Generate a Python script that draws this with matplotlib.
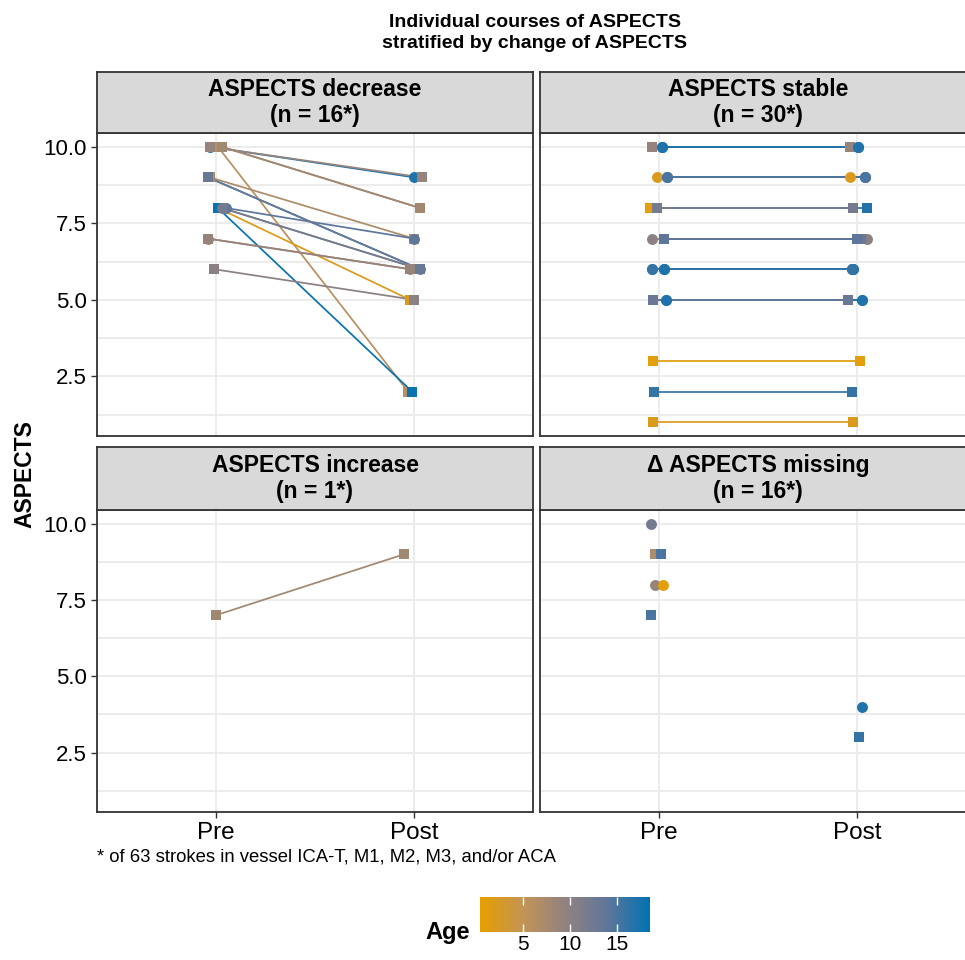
import numpy as np
import matplotlib
matplotlib.use("Agg")
import matplotlib.pyplot as plt
from matplotlib.colors import LinearSegmentedColormap, Normalize
from matplotlib.cm import ScalarMappable

plt.rcParams['font.family'] = ['Liberation Sans', 'DejaVu Sans']

# ---- data (ASPECTS pre / post, age, shape group, horizontal jitter) ----
nan = np.nan

dec_pre = [10, 10, 10, 9, 9, 8, 8, 8, 8, 7, 6, 10, 8, 9, 7, 10]
dec_post = [9, 8, 2, 6, 7, 7, 6, 5, 2, 6, 5, 9, 6, 6, 6, 8]
dec_age = [17, 8, 6, 17, 7, 14, 11, 2, 18, 8, 10, 9, 12, 13, 9, 8]
dec_grp = [0, 1, 1, 1, 1, 0, 1, 1, 1, 0, 1, 1, 0, 1, 1, 1]
dec_jit_pre = [-0.03, 0.03, 0.01, -0.04, -0.03, 0.05, 0.03, 0.01, 0.01, -0.04, -0.01,
               -0.03, 0.03, -0.04, -0.04, 0.03]
dec_jit_post = [0.0, 0.03, -0.03, 0.03, 0.0, 0.0, 0.03, -0.02, -0.01, -0.02, 0.0,
                0.04, 0.03, 0.03, -0.02, 0.03]

sta_val = [10, 10, 10, 10, 9, 9, 9, 9, 8, 8, 8, 8, 8, 7, 7, 7, 7,
           6, 6, 6, 6, 6, 5, 5, 5, 5, 5, 3, 2, 1]
sta_age = [9, 17, 16, 17, 2, 14, 13, 15, 1, 12, 17, 12, 12, 10, 14, 13, 14,
           16, 17, 16, 17, 16, 13, 17, 14, 17, 13, 1, 16, 2]
sta_grp = [1, 0, 0, 0, 0, 0, 0, 0, 1, 1, 1, 1, 1, 0, 1, 1, 1,
           0, 0, 0, 0, 0, 1, 0, 1, 0, 1, 1, 1, 1]
sta_jit_pre = [-0.035, 0.015, 0.015, 0.015, -0.01, 0.04, 0.04, 0.04, -0.045, -0.01, -0.01,
               -0.01, -0.01, -0.035, 0.025, 0.025, 0.025, -0.035, 0.025, 0.025, 0.025,
               -0.035, -0.03, 0.035, -0.03, 0.035, -0.03, -0.03, -0.025, -0.03]
sta_jit_post = [-0.035, 0.005, 0.005, 0.005, -0.035, 0.04, 0.04, 0.04, -0.02, -0.02, 0.05,
                -0.02, -0.02, 0.05, 0.0, 0.02, 0.0, -0.025, -0.02, -0.025, -0.02,
                -0.025, -0.045, 0.025, -0.045, 0.025, -0.045, 0.015, -0.025, -0.02]

inc_pre = [7]
inc_post = [9]
inc_age = [8]
inc_grp = [1]
inc_jit_pre = [0.0]
inc_jit_post = [-0.05]

mis_pre = [10, 9, 9, 8, 8, 7, nan, nan]
mis_post = [nan, nan, nan, nan, nan, nan, 4, 3]
mis_age = [12, 7, 15, 9, 1, 15, 17, 16]
mis_grp = [0, 1, 1, 0, 0, 1, 0, 1]
mis_jit_pre = [-0.04, -0.02, 0.01, -0.02, 0.02, -0.04, 0.0, 0.0]
mis_jit_post = [0.0, 0.0, 0.0, 0.0, 0.0, 0.0, 0.025, 0.01]

x_labels = ["Pre", "Post"]
panel_titles = ["ASPECTS decrease\n(n = 16*)", "ASPECTS stable\n(n = 30*)",
                "ASPECTS increase\n(n = 1*)", "\u0394 ASPECTS missing\n(n = 16*)"]

cmap = LinearSegmentedColormap.from_list(
    "age", ["#E69F00", "#C39455", "#918280", "#5F769A", "#0072B2"])
norm = Normalize(vmin=0.4, vmax=18.5)
markers = ['o', 's']

W, H = 965, 960
fig = plt.figure(figsize=(W / 100, H / 100), dpi=100)


def box(x0, y0, x1, y1):
    return [x0 / W, 1 - y1 / H, (x1 - x0) / W, (y1 - y0) / H]


def draw(ax, pre, post, age, grp, jpre, jpost):
    for i in range(len(age)):
        c = cmap(norm(age[i]))
        xs, ys = [], []
        if not np.isnan(pre[i]):
            xs.append(1 + jpre[i]); ys.append(pre[i])
        if not np.isnan(post[i]):
            xs.append(2 + jpost[i]); ys.append(post[i])
        if len(xs) == 2:
            ax.plot(xs, ys, color=c, lw=1.25, zorder=2)
        m = markers[grp[i]]
        ax.scatter(xs, ys, color=c, marker=m, s=62 if m == 'o' else 52,
                   linewidths=0, zorder=3)


cols = [(97, 533), (540, 976)]
rows = [(72, 133, 436), (447, 510, 812)]
panels = [
    (dec_pre, dec_post, dec_age, dec_grp, dec_jit_pre, dec_jit_post),
    ([float(v) for v in sta_val], [float(v) for v in sta_val], sta_age, sta_grp,
     sta_jit_pre, sta_jit_post),
    (inc_pre, inc_post, inc_age, inc_grp, inc_jit_pre, inc_jit_post),
    (mis_pre, mis_post, mis_age, mis_grp, mis_jit_pre, mis_jit_post),
]

for k, data in enumerate(panels):
    r, c = divmod(k, 2)
    x0, x1 = cols[c]
    ys, yp, yb = rows[r]
    ax = fig.add_axes(box(x0, yp, x1, yb))
    sx = fig.add_axes(box(x0, ys, x1, yp))
    sx.set_facecolor("#D9D9D9")
    sx.set_xticks([]); sx.set_yticks([])
    for s in sx.spines.values():
        s.set_color("#333333"); s.set_linewidth(1.3)
    sx.text(0.5, 0.5, panel_titles[k], ha='center', va='center', fontsize=16.5,
            fontweight='bold', linespacing=1.2, transform=sx.transAxes)

    pre, post, age, grp, jp, jq = data
    draw(ax, np.array(pre, float), np.array(post, float), age, grp, jp, jq)

    ax.set_xlim(0.4, 2.6)
    ax.set_ylim(0.55, 10.45)
    ax.set_xticks([1, 2])
    ax.set_yticks([2.5, 5.0, 7.5, 10.0])
    ax.set_yticks([1.25, 3.75, 6.25, 8.75], minor=True)
    ax.grid(True, which='major', color="#EBEBEB", lw=1.3, zorder=0)
    ax.grid(True, which='minor', axis='y', color="#EBEBEB", lw=1.3, zorder=0)
    ax.set_axisbelow(True)
    ax.tick_params(which='minor', length=0)
    ax.tick_params(which='major', length=4, color="#333333", width=1)
    for s in ax.spines.values():
        s.set_color("#333333"); s.set_linewidth(1.3)
    if c == 0:
        ax.set_yticklabels(["2.5", "5.0", "7.5", "10.0"], fontsize=16)
    else:
        ax.tick_params(axis='y', which='major', length=0, labelleft=False)
    if r == 1:
        ax.set_xticklabels(x_labels, fontsize=17.5)
    else:
        ax.tick_params(axis='x', length=0, labelbottom=False)

fig.text(535 / W, 1 - 33 / H, "Individual courses of ASPECTS\nstratified by change of ASPECTS",
         ha='center', va='center', fontsize=14, fontweight='bold', linespacing=1.35)
fig.text(25 / W, 1 - 474 / H, "ASPECTS", rotation=90, ha='center', va='center',
         fontsize=16.5, fontweight='bold')
fig.text(97 / W, 1 - 857 / H, "* of 63 strokes in vessel ICA-T, M1, M2, M3, and/or ACA",
         ha='left', va='center', fontsize=13.3)

cax = fig.add_axes(box(480, 897, 650, 932))
cb = fig.colorbar(ScalarMappable(norm=norm, cmap=cmap), cax=cax, orientation='horizontal')
cb.outline.set_visible(False)
cb.set_ticks([5, 10, 15])
cax.xaxis.set_ticks_position('both')
cax.tick_params(axis='x', direction='in', color='white', length=6, width=1,
                labelsize=15, labelbottom=True, labeltop=False, pad=2)
fig.text(470 / W, 1 - 932 / H, "Age", ha='right', va='center', fontsize=17,
         fontweight='bold')

fig.savefig("out.png", dpi=100)
